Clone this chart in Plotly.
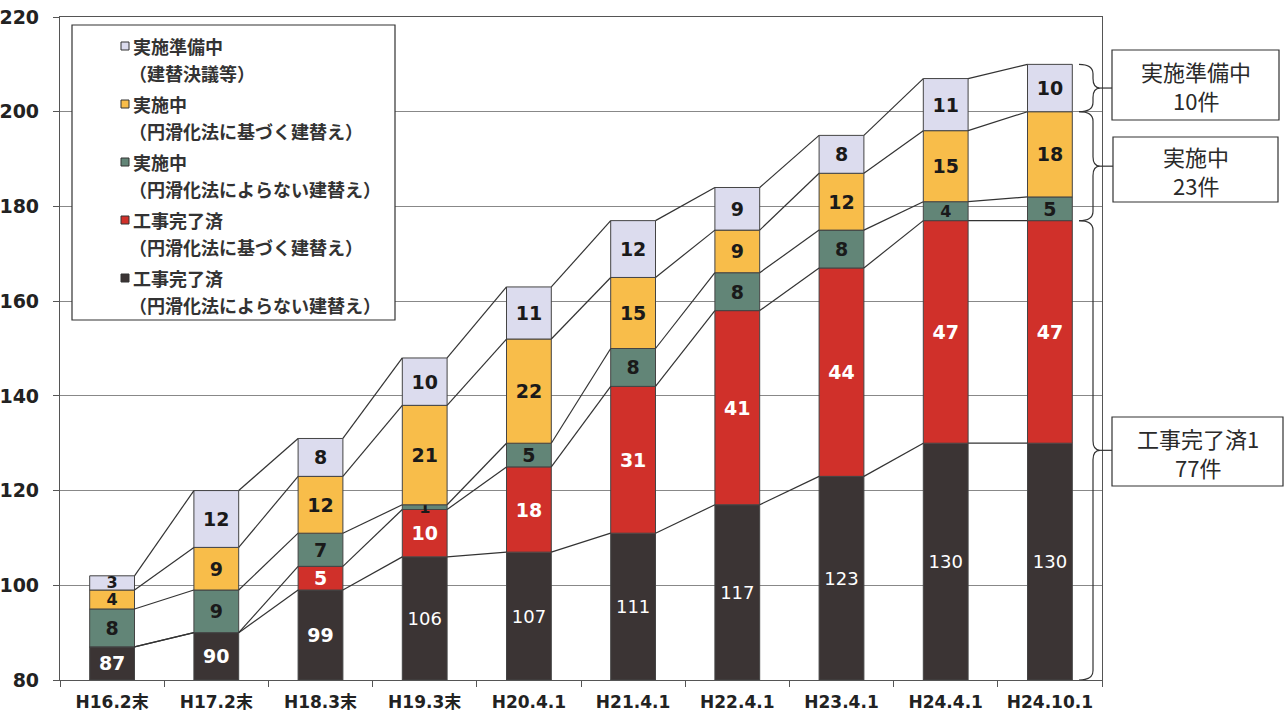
import numpy as np
import plotly.graph_objects as go

# ---------------- data ----------------
categories = ["H16.2末", "H17.2末", "H18.3末", "H19.3末", "H20.4.1",
              "H21.4.1", "H22.4.1", "H23.4.1", "H24.4.1", "H24.10.1"]
kanryo_yoranai = [87, 90, 99, 106, 107, 111, 117, 123, 130, 130]   # 工事完了済（円滑化法によらない建替え）
kanryo_motozuku = [0, 0, 5, 10, 18, 31, 41, 44, 47, 47]            # 工事完了済（円滑化法に基づく建替え）
jisshi_yoranai = [8, 9, 7, 1, 5, 8, 8, 8, 4, 5]                    # 実施中（円滑化法によらない建替え）
jisshi_motozuku = [4, 9, 12, 21, 22, 15, 9, 12, 15, 18]            # 実施中（円滑化法に基づく建替え）
junbi = [3, 12, 8, 10, 11, 12, 9, 8, 11, 10]                       # 実施準備中（建替決議等）

series_names = [
    ("工事完了済", "（円滑化法によらない建替え）"),
    ("工事完了済", "（円滑化法に基づく建替え）"),
    ("実施中", "（円滑化法によらない建替え）"),
    ("実施中", "（円滑化法に基づく建替え）"),
    ("実施準備中", "（建替決議等）"),
]
y_ticks = [80, 100, 120, 140, 160, 180, 200, 220]

# ---------------- styles ----------------
colors = ["#3b3434", "#d0302a", "#628577", "#f8bd4a", "#dcdcee"]
text_colors = ["white", "white", "#1a1a1a", "#1a1a1a", "#1a1a1a"]
W, H = 1287, 719
ML, MR, MT, MB = 60, 185, 17, 39
PW, PH = W - ML - MR, H - MT - MB
Y_MIN, Y_MAX = y_ticks[0], y_ticks[-1]
BAR_W = 0.43
NUM_FONT = "DejaVu Sans, Noto Sans CJK JP, sans-serif"
JP_FONT = "Noto Sans CJK JP, sans-serif"


def px_x(px):
    return (px - ML) / PW


def px_y(py):
    return (H - MB - py) / PH


data = np.array([kanryo_yoranai, kanryo_motozuku, jisshi_yoranai,
                 jisshi_motozuku, junbi], dtype=float)
cum = np.cumsum(data, axis=0)
xs = np.arange(len(categories))

fig = go.Figure()

# connector lines between bars at each cumulative level
for lvl in range(cum.shape[0]):
    lx, ly = [], []
    for i in range(len(categories) - 1):
        lx += [xs[i] + BAR_W / 2, xs[i + 1] - BAR_W / 2, None]
        ly += [cum[lvl, i], cum[lvl, i + 1], None]
    fig.add_trace(go.Scatter(x=lx, y=ly, mode="lines",
                             line=dict(color="#333333", width=1.2),
                             hoverinfo="skip", showlegend=False))

# stacked bars (explicit bases)
for k in range(data.shape[0]):
    vals = data[k]
    if k == 0:
        base = np.full_like(vals, Y_MIN)
        heights = vals - Y_MIN
    else:
        base = cum[k - 1]
        heights = vals
    texts, sizes = [], []
    for v in vals:
        if v <= 0:
            texts.append("")
            sizes.append(18)
        elif v >= 100:
            texts.append(str(int(v)))
            sizes.append(18)
        else:
            texts.append(f"<b>{int(v)}</b>")
            sizes.append(16 if v < 5 else 19)
    fig.add_trace(go.Bar(
        x=xs, y=heights, base=base, width=BAR_W,
        marker=dict(color=colors[k], line=dict(color="#444444", width=1)),
        text=texts, textposition="inside", insidetextanchor="middle",
        constraintext="none", textangle=0,
        textfont=dict(family=NUM_FONT, size=sizes, color=text_colors[k]),
        hoverinfo="skip", showlegend=False,
    ))

shapes = []
annotations = []

# ---------------- legend (manual) ----------------
shapes.append(dict(type="rect", xref="paper", yref="paper",
                   x0=px_x(72), x1=px_x(395), y0=px_y(320), y1=px_y(25),
                   fillcolor="white", line=dict(color="#333333", width=1.2),
                   layer="above"))
order = [4, 3, 2, 1, 0]
for j, k in enumerate(order):
    y1 = 46 + 58 * j
    y2 = y1 + 27
    shapes.append(dict(type="rect", xref="paper", yref="paper",
                       x0=px_x(121), x1=px_x(129), y0=px_y(y1 + 4), y1=px_y(y1 - 4),
                       fillcolor=colors[k], line=dict(color="#333333", width=1),
                       layer="above"))
    annotations.append(dict(xref="paper", yref="paper", x=px_x(131), y=px_y(y1),
                            xanchor="left", yanchor="middle", showarrow=False,
                            text=f"<b>{series_names[k][0]}</b>",
                            font=dict(family=JP_FONT, size=18, color="#333333")))
    annotations.append(dict(xref="paper", yref="paper", x=px_x(127), y=px_y(y2),
                            xanchor="left", yanchor="middle", showarrow=False,
                            text=f"<b>{series_names[k][1]}</b>",
                            font=dict(family=JP_FONT, size=18, color="#333333")))

# ---------------- right-side braces and boxes ----------------
last = -1
groups = [
    (cum[3, last], cum[4, last], "実施準備中", int(junbi[last]), (50, 120), (1112, 1279)),
    (cum[1, last], cum[3, last], "実施中", int(jisshi_yoranai[last] + jisshi_motozuku[last]), (137, 202), (1113, 1278)),
    (Y_MIN, cum[1, last], "工事完了済", int(kanryo_yoranai[last] + kanryo_motozuku[last]), (417, 486), (1112, 1283)),
]
xl, xv, xt = px_x(1079), px_x(1093), px_x(1100)
for lo, hi, label, count, (by0, by1), (bx0, bx1) in groups:
    ym = (lo + hi) / 2
    r = min(2.0, (hi - lo) / 5)
    path = (f"M {xl},{hi} Q {xv},{hi} {xv},{hi - r} L {xv},{ym + r} "
            f"Q {xv},{ym} {xt},{ym} Q {xv},{ym} {xv},{ym - r} "
            f"L {xv},{lo + r} Q {xv},{lo} {xl},{lo}")
    shapes.append(dict(type="path", xref="paper", yref="y", path=path,
                       line=dict(color="#333333", width=1.2)))
    shapes.append(dict(type="line", xref="paper", yref="y",
                       x0=xt, x1=px_x(bx0), y0=ym, y1=ym,
                       line=dict(color="#333333", width=1.2)))
    shapes.append(dict(type="rect", xref="paper", yref="paper",
                       x0=px_x(bx0), x1=px_x(bx1), y0=px_y(by1), y1=px_y(by0),
                       fillcolor="white", line=dict(color="#333333", width=1.2)))
    if label == "工事完了済":
        s = str(count)
        line1, line2 = f"{label}{s[0]}", f"{s[1:]}件"
    else:
        line1, line2 = label, f"{count}件"
    cx = px_x((bx0 + bx1) / 2)
    cy = (by0 + by1) / 2
    for txt, py in ((line1, cy - 14), (line2, cy + 15)):
        annotations.append(dict(xref="paper", yref="paper", x=cx, y=px_y(py),
                                xanchor="center", yanchor="middle", showarrow=False,
                                text=txt,
                                font=dict(family=JP_FONT, size=22, color="#2a2a2a")))

fig.update_layout(
    width=W, height=H,
    margin=dict(l=ML, r=MR, t=MT, b=MB, autoexpand=False),
    paper_bgcolor="white", plot_bgcolor="white",
    barmode="overlay",
    shapes=shapes, annotations=annotations,
    showlegend=False,
)
fig.update_xaxes(
    range=[-0.5, len(categories) - 0.5], automargin=False,
    tickmode="array", tickvals=xs, ticktext=categories,
    ticks="", ticklen=0, ticklabelstandoff=6,
    tickfont=dict(family=NUM_FONT, size=17, color="#222222", weight="bold"),
    minor=dict(tickmode="array", tickvals=list(np.arange(len(categories) + 1) - 0.5),
               ticks="outside", ticklen=6, tickcolor="#555555"),
    showline=True, linecolor="#555555", linewidth=1.2, mirror=True,
    showgrid=False, zeroline=False, fixedrange=True,
)
fig.update_yaxes(
    range=[Y_MIN, Y_MAX], automargin=False,
    tickmode="array", tickvals=y_ticks,
    ticks="outside", ticklen=6, tickcolor="#555555", ticklabelstandoff=10,
    tickfont=dict(family=NUM_FONT, size=19, color="#222222", weight="bold"),
    showline=True, linecolor="#555555", linewidth=1.2, mirror=True,
    showgrid=True, gridcolor="#888888", gridwidth=1, zeroline=False,
)

fig.write_html("out.html")
